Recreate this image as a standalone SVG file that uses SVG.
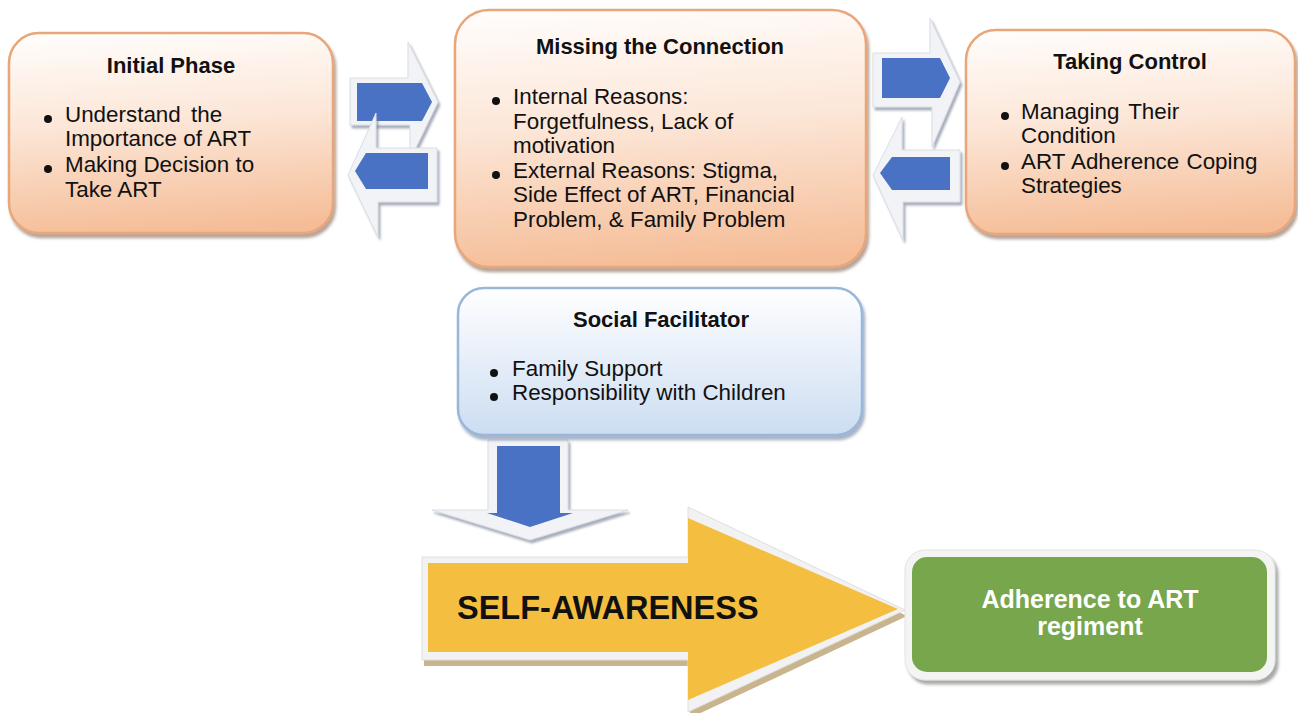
<svg xmlns="http://www.w3.org/2000/svg" width="1298" height="713" viewBox="0 0 1298 713">
<defs>
<linearGradient id="peach" x1="0.35" y1="0" x2="0.45" y2="1">
<stop offset="0" stop-color="#FFFCFA"/>
<stop offset="0.45" stop-color="#FCE6D7"/>
<stop offset="1" stop-color="#F5BD97"/>
</linearGradient>
<linearGradient id="blue" x1="0" y1="0" x2="0" y2="1">
<stop offset="0" stop-color="#FFFFFF"/>
<stop offset="1" stop-color="#CCDDF2"/>
</linearGradient>
<filter id="sh" x="-10%" y="-10%" width="120%" height="130%">
<feDropShadow dx="2" dy="4" stdDeviation="1.5" flood-color="#7A5A45" flood-opacity="0.55"/>
</filter>
<filter id="shb" x="-10%" y="-10%" width="120%" height="130%">
<feDropShadow dx="2" dy="4" stdDeviation="1.5" flood-color="#5F7596" flood-opacity="0.55"/>
</filter>
<filter id="sha" x="-20%" y="-20%" width="140%" height="140%">
<feDropShadow dx="2" dy="3" stdDeviation="1" flood-color="#6E7890" flood-opacity="0.6"/>
</filter>
<filter id="shg" x="-10%" y="-10%" width="120%" height="130%">
<feDropShadow dx="3" dy="4" stdDeviation="1.5" flood-color="#707070" flood-opacity="0.6"/>
</filter>
</defs>
<style>
.pbox{fill:url(#peach);stroke:#E8A67A;stroke-width:2.5;filter:url(#sh)}
.bbox{fill:url(#blue);stroke:#9AB6DA;stroke-width:2.5;filter:url(#shb)}
.ttl{font-family:"Liberation Sans",Arial,sans-serif;font-weight:bold;font-size:22px;fill:#111;text-anchor:middle}
.txt{font-family:"Liberation Sans",Arial,sans-serif;font-size:22.4px;fill:#111}
.bul{fill:#111}
.out{fill:#F2F3F6;stroke:#D9DDE5;stroke-width:1;filter:url(#sha)}
.blu{fill:#4A72C4}
</style>
<rect width="1298" height="713" fill="#FFFFFF"/>

<g id="connectors">
<g id="arrow-initial-to-missing">
<polygon class="out" points="350,78 408,78 408,42 438,102 410,160 410,125 350,125"/>
<polygon class="blu" points="357,83 422,83 432,102 422,121 357,121"/>
</g>
<g id="arrow-missing-to-initial">
<polygon class="out" points="437,148 376,148 376,113 348,175 378,237 378,202 437,202"/>
<polygon class="blu" points="428,153 366,153 355,171 366,189 428,189"/>
</g>
<g id="arrow-missing-to-taking">
<polygon class="out" points="873,53 930,53 930,18 960,82 932,147 932,107 873,107"/>
<polygon class="blu" points="882,58 940,58 950,78 940,98 882,98"/>
</g>
<g id="arrow-taking-to-missing">
<polygon class="out" points="960,150 902,150 902,117 873,175 903,240 903,202 960,202"/>
<polygon class="blu" points="950,157 892,157 880,173 892,190 950,190"/>
</g>
<g id="arrow-social-to-self">
<polygon class="out" points="488,440 568,440 568,510 628,510 530,540 432,510 488,510"/>
<polygon class="blu" points="497,446 560,446 560,513 573,513 530,527 487,513 497,513"/>
</g>
</g>

<g id="node-initial">
<rect class="pbox" x="9" y="33" width="324" height="200" rx="30"/>
<text class="ttl" x="171" y="73">Initial Phase</text>
<circle class="bul" cx="48" cy="119" r="4"/>
<circle class="bul" cx="48" cy="169" r="4"/>
<text class="txt" x="65" y="122" word-spacing="4">Understand the</text>
<text class="txt" x="65" y="146">Importance of ART</text>
<text class="txt" x="65" y="172">Making Decision to</text>
<text class="txt" x="65" y="197">Take ART</text>
</g>

<g id="node-missing">
<rect class="pbox" x="455" y="10" width="411" height="257" rx="34"/>
<text class="ttl" x="660" y="54">Missing the Connection</text>
<circle class="bul" cx="496" cy="101" r="4"/>
<circle class="bul" cx="496" cy="175" r="4"/>
<text class="txt" x="513" y="104">Internal Reasons:</text>
<text class="txt" x="513" y="128.5">Forgetfulness, Lack of</text>
<text class="txt" x="513" y="153">motivation</text>
<text class="txt" x="513" y="177.5">External Reasons: Stigma,</text>
<text class="txt" x="513" y="202">Side Effect of ART, Financial</text>
<text class="txt" x="513" y="226.5">Problem, &amp; Family Problem</text>
</g>

<g id="node-taking">
<rect class="pbox" x="966" y="30" width="329" height="204" rx="30"/>
<text class="ttl" x="1130" y="69">Taking Control</text>
<circle class="bul" cx="1005" cy="116" r="4"/>
<circle class="bul" cx="1005" cy="166" r="4"/>
<text class="txt" x="1021" y="119" word-spacing="3">Managing Their</text>
<text class="txt" x="1021" y="143">Condition</text>
<text class="txt" x="1021" y="169" word-spacing="1">ART Adherence Coping</text>
<text class="txt" x="1021" y="193">Strategies</text>
</g>

<g id="node-social">
<rect class="bbox" x="458" y="288" width="404" height="147" rx="26"/>
<text class="ttl" x="661" y="327">Social Facilitator</text>
<circle class="bul" cx="494" cy="373" r="4"/>
<circle class="bul" cx="494" cy="397" r="4"/>
<text class="txt" x="512" y="376">Family Support</text>
<text class="txt" x="512" y="400">Responsibility with Children</text>
</g>

<g id="node-self">
<polygon points="424,563 690,563 690,513 907,616 690,718 690,666 424,666" fill="#C9B58D"/>
<polygon points="422,557 688,557 688,507 905,610 688,712 688,660 422,660" fill="#F2F2F2" stroke="#DEDEDE" stroke-width="1"/>
<polygon points="428,563 688,563 688,518 898,609 688,700 688,652 428,652" fill="#F4BE41"/>
<text x="457" y="619" font-family="Liberation Sans, Arial, sans-serif" font-weight="bold" font-size="32.5" fill="#111">SELF-AWARENESS</text>
</g>

<g id="node-adherence">
<rect x="905" y="550" width="370" height="130" rx="20" fill="#F4F5F3" stroke="#E2E4E0" stroke-width="1" filter="url(#shg)"/>
<rect x="912" y="557" width="355" height="115" rx="15" fill="#77A64D"/>
<text x="1090" y="608" font-family="Liberation Sans, Arial, sans-serif" font-weight="bold" font-size="25" fill="#FFFFFF" text-anchor="middle">Adherence to ART</text>
<text x="1090" y="635" font-family="Liberation Sans, Arial, sans-serif" font-weight="bold" font-size="25" fill="#FFFFFF" text-anchor="middle">regiment</text>
</g>
</svg>
